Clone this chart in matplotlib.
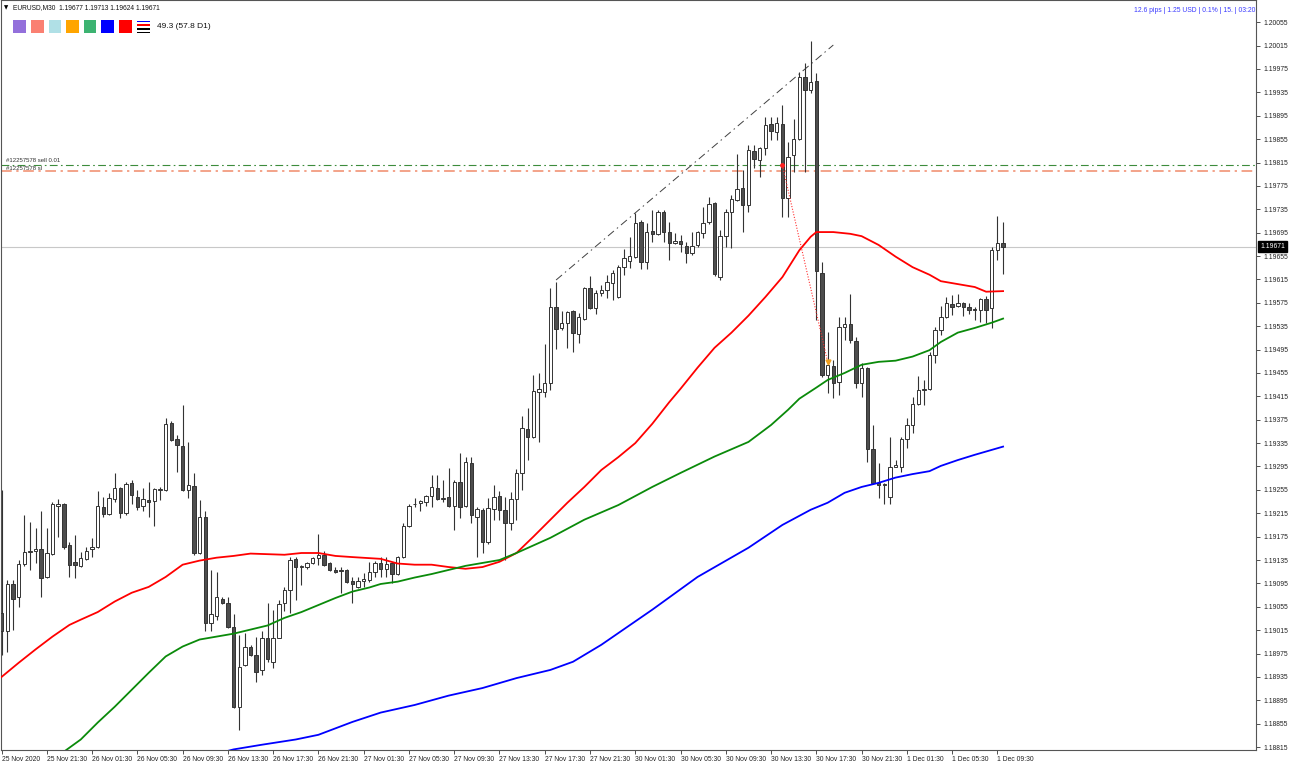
import matplotlib
matplotlib.use("Agg")
import matplotlib.pyplot as plt
import matplotlib.transforms as mtransforms
from matplotlib.patches import Rectangle
import numpy as np

plt.rcParams['font.family'] = ['Liberation Sans', 'DejaVu Sans']

# EURUSD M30, 25 Nov 17:30 .. 1 Dec 10:00 (178 bars)
opens = [1.19045, 1.19013, 1.19094, 1.19071, 1.19128, 1.19149, 1.19151, 1.19153, 1.19106, 1.19146,
         1.19228, 1.19231, 1.19161, 1.19132, 1.19125, 1.19137, 1.19154, 1.19158, 1.19226, 1.19214,
         1.19240, 1.19258, 1.19216, 1.19267, 1.19243, 1.19228, 1.19238, 1.19236, 1.19255, 1.19255,
         1.19370, 1.19342, 1.19330, 1.19255, 1.19262, 1.19147, 1.19209, 1.19028, 1.19040, 1.19069,
         1.19062, 1.19021, 1.18884, 1.18956, 1.18987, 1.18973, 1.18947, 1.19002, 1.18961, 1.19002,
         1.19062, 1.19084, 1.19137, 1.19123, 1.19123, 1.19130, 1.19139, 1.19144, 1.19130, 1.19118,
         1.19118, 1.19118, 1.19099, 1.19089, 1.19099, 1.19101, 1.19115, 1.19130, 1.19120, 1.19130,
         1.19111, 1.19140, 1.19194, 1.19230, 1.19233, 1.19235, 1.19245, 1.19258, 1.19240, 1.19243,
         1.19228, 1.19269, 1.19228, 1.19301, 1.19209, 1.19221, 1.19165, 1.19223, 1.19245, 1.19221,
         1.19199, 1.19240, 1.19284, 1.19359, 1.19346, 1.19423, 1.19423, 1.19438, 1.19568, 1.19532,
         1.19541, 1.19561, 1.19522, 1.19547, 1.19600, 1.19566, 1.19592, 1.19597, 1.19609, 1.19585,
         1.19636, 1.19647, 1.19653, 1.19713, 1.19645, 1.19698, 1.19693, 1.19730, 1.19696, 1.19677,
         1.19681, 1.19672, 1.19660, 1.19674, 1.19694, 1.19713, 1.19746, 1.19619, 1.19689, 1.19730,
         1.19751, 1.19771, 1.19742, 1.19834, 1.19819, 1.19840, 1.19881, 1.19867, 1.19881, 1.19754,
         1.19828, 1.19855, 1.19961, 1.19939, 1.19954, 1.19626, 1.19452, 1.19467, 1.19440, 1.19534,
         1.19539, 1.19510, 1.19438, 1.19464, 1.19325, 1.19267, 1.19264, 1.19243, 1.19294, 1.19294,
         1.19342, 1.19366, 1.19402, 1.19426, 1.19428, 1.19486, 1.19528, 1.19551, 1.19573, 1.19570,
         1.19575, 1.19568, 1.19565, 1.19563, 1.19581, 1.19566, 1.19665, 1.19677]
highs = [1.19255, 1.19101, 1.19101, 1.19135, 1.19212, 1.19200, 1.19190, 1.19218, 1.19190, 1.19235,
         1.19240, 1.19233, 1.19165, 1.19177, 1.19149, 1.19158, 1.19173, 1.19253, 1.19243, 1.19250,
         1.19284, 1.19260, 1.19269, 1.19272, 1.19255, 1.19258, 1.19269, 1.19258, 1.19260, 1.19378,
         1.19373, 1.19349, 1.19400, 1.19337, 1.19284, 1.19238, 1.19218, 1.19118, 1.19115, 1.19071,
         1.19071, 1.19042, 1.19007, 1.19011, 1.18990, 1.19004, 1.19013, 1.19062, 1.19050, 1.19067,
         1.19089, 1.19140, 1.19140, 1.19127, 1.19132, 1.19140, 1.19180, 1.19151, 1.19132, 1.19123,
         1.19123, 1.19120, 1.19106, 1.19106, 1.19113, 1.19132, 1.19134, 1.19140, 1.19140, 1.19132,
         1.19142, 1.19199, 1.19230, 1.19241, 1.19238, 1.19247, 1.19281, 1.19281, 1.19272, 1.19293,
         1.19272, 1.19318, 1.19312, 1.19312, 1.19226, 1.19224, 1.19241, 1.19264, 1.19253, 1.19243,
         1.19252, 1.19291, 1.19382, 1.19395, 1.19452, 1.19455, 1.19505, 1.19600, 1.19611, 1.19561,
         1.19561, 1.19562, 1.19558, 1.19602, 1.19621, 1.19597, 1.19606, 1.19623, 1.19631, 1.19640,
         1.19667, 1.19688, 1.19729, 1.19717, 1.19712, 1.19734, 1.19734, 1.19734, 1.19713, 1.19694,
         1.19691, 1.19679, 1.19696, 1.19698, 1.19739, 1.19756, 1.19747, 1.19700, 1.19736, 1.19759,
         1.19829, 1.19802, 1.19845, 1.19845, 1.19842, 1.19893, 1.19893, 1.19893, 1.19913, 1.19850,
         1.19889, 1.19970, 1.19985, 1.20023, 1.19968, 1.19645, 1.19525, 1.19477, 1.19551, 1.19551,
         1.19590, 1.19517, 1.19472, 1.19465, 1.19366, 1.19301, 1.19267, 1.19346, 1.19306, 1.19346,
         1.19378, 1.19414, 1.19450, 1.19443, 1.19491, 1.19534, 1.19569, 1.19585, 1.19589, 1.19590,
         1.19577, 1.19575, 1.19568, 1.19583, 1.19587, 1.19670, 1.19724, 1.19713]
lows = [1.18973, 1.18978, 1.19016, 1.19054, 1.19125, 1.19118, 1.19130, 1.19071, 1.19105, 1.19144,
        1.19175, 1.19154, 1.19106, 1.19105, 1.19123, 1.19135, 1.19140, 1.19156, 1.19209, 1.19212,
        1.19235, 1.19207, 1.19212, 1.19230, 1.19221, 1.19219, 1.19209, 1.19194, 1.19238, 1.19253,
        1.19339, 1.19286, 1.19253, 1.19241, 1.19144, 1.19146, 1.19013, 1.19013, 1.19033, 1.19060,
        1.19019, 1.18882, 1.18845, 1.18954, 1.18970, 1.18926, 1.18939, 1.18961, 1.18951, 1.19001,
        1.19047, 1.19045, 1.19067, 1.19093, 1.19120, 1.19128, 1.19127, 1.19125, 1.19116, 1.19113,
        1.19079, 1.19096, 1.19062, 1.19087, 1.19089, 1.19098, 1.19106, 1.19106, 1.19106, 1.19096,
        1.19110, 1.19139, 1.19192, 1.19226, 1.19218, 1.19228, 1.19226, 1.19238, 1.19235, 1.19226,
        1.19187, 1.19207, 1.19226, 1.19199, 1.19140, 1.19147, 1.19163, 1.19204, 1.19204, 1.19135,
        1.19187, 1.19204, 1.19255, 1.19306, 1.19344, 1.19337, 1.19414, 1.19426, 1.19496, 1.19528,
        1.19498, 1.19491, 1.19506, 1.19545, 1.19565, 1.19556, 1.19587, 1.19583, 1.19580, 1.19583,
        1.19623, 1.19635, 1.19652, 1.19633, 1.19633, 1.19679, 1.19691, 1.19679, 1.19648, 1.19676,
        1.19662, 1.19643, 1.19657, 1.19670, 1.19686, 1.19710, 1.19621, 1.19614, 1.19670, 1.19669,
        1.19749, 1.19696, 1.19730, 1.19806, 1.19790, 1.19828, 1.19853, 1.19853, 1.19722, 1.19722,
        1.19799, 1.19853, 1.19799, 1.19934, 1.19545, 1.19448, 1.19421, 1.19412, 1.19417, 1.19511,
        1.19506, 1.19429, 1.19414, 1.19303, 1.19265, 1.19241, 1.19230, 1.19231, 1.19294, 1.19286,
        1.19327, 1.19352, 1.19400, 1.19400, 1.19426, 1.19472, 1.19520, 1.19549, 1.19554, 1.19568,
        1.19553, 1.19556, 1.19545, 1.19542, 1.19541, 1.19532, 1.19648, 1.19624]
closes = [1.19013, 1.19094, 1.19069, 1.19128, 1.19149, 1.19151, 1.19154, 1.19105, 1.19147, 1.19231,
          1.19231, 1.19158, 1.19127, 1.19127, 1.19139, 1.19151, 1.19158, 1.19228, 1.19214, 1.19241,
          1.19258, 1.19216, 1.19265, 1.19247, 1.19226, 1.19240, 1.19235, 1.19257, 1.19257, 1.19368,
          1.19341, 1.19332, 1.19255, 1.19264, 1.19147, 1.19209, 1.19028, 1.19042, 1.19071, 1.19062,
          1.19021, 1.18884, 1.18952, 1.18987, 1.18973, 1.18944, 1.19002, 1.18965, 1.19002, 1.19060,
          1.19084, 1.19135, 1.19123, 1.19125, 1.19130, 1.19139, 1.19144, 1.19127, 1.19118, 1.19115,
          1.19116, 1.19098, 1.19094, 1.19099, 1.19103, 1.19115, 1.19130, 1.19120, 1.19128, 1.19111,
          1.19140, 1.19194, 1.19228, 1.19231, 1.19236, 1.19245, 1.19260, 1.19240, 1.19241, 1.19228,
          1.19269, 1.19226, 1.19303, 1.19212, 1.19223, 1.19165, 1.19224, 1.19243, 1.19221, 1.19199,
          1.19240, 1.19284, 1.19361, 1.19346, 1.19424, 1.19428, 1.19438, 1.19568, 1.19530, 1.19541,
          1.19559, 1.19523, 1.19551, 1.19600, 1.19566, 1.19592, 1.19597, 1.19611, 1.19626, 1.19636,
          1.19652, 1.19655, 1.19712, 1.19645, 1.19696, 1.19693, 1.19730, 1.19696, 1.19677, 1.19681,
          1.19676, 1.19660, 1.19672, 1.19696, 1.19712, 1.19744, 1.19624, 1.19689, 1.19730, 1.19753,
          1.19770, 1.19742, 1.19836, 1.19821, 1.19840, 1.19879, 1.19869, 1.19883, 1.19754, 1.19824,
          1.19855, 1.19961, 1.19939, 1.19953, 1.19629, 1.19452, 1.19469, 1.19438, 1.19534, 1.19539,
          1.19511, 1.19438, 1.19464, 1.19325, 1.19267, 1.19264, 1.19265, 1.19294, 1.19298, 1.19342,
          1.19366, 1.19402, 1.19426, 1.19428, 1.19486, 1.19528, 1.19551, 1.19575, 1.19568, 1.19575,
          1.19568, 1.19563, 1.19563, 1.19581, 1.19563, 1.19665, 1.19677, 1.19671]

# moving averages (bar index, value)
red_ma_bars = [0, 3, 6, 9, 12, 14, 17, 20, 23, 26, 29, 32, 35, 38, 41, 44, 50, 53, 56, 59, 62, 67, 70,
               73, 76, 79, 82, 85, 88, 91, 94, 97, 100, 103, 106, 109, 112, 115, 118, 120, 123, 126,
               129, 132, 135, 138, 141, 143, 144, 147, 150, 152, 155, 158, 161, 164, 166, 169, 172,
               174, 177]
red_ma = [1.18935, 1.18959, 1.18982, 1.19004, 1.19024, 1.19033, 1.19046, 1.19064, 1.19079, 1.19089,
          1.19106, 1.19127, 1.19134, 1.19139, 1.19142, 1.19146, 1.19144, 1.19147, 1.19147, 1.19142,
          1.19140, 1.19137, 1.19129, 1.19127, 1.19127, 1.19123, 1.19120, 1.19123, 1.19132, 1.19147,
          1.19175, 1.19204, 1.19233, 1.19260, 1.19289, 1.19311, 1.19335, 1.19368, 1.19405, 1.19428,
          1.19464, 1.19498, 1.19524, 1.19553, 1.19585, 1.19619, 1.19665, 1.19688, 1.19696, 1.19696,
          1.19693, 1.19689, 1.19674, 1.19654, 1.19636, 1.19623, 1.19612, 1.19607, 1.19602, 1.19594,
          1.19595]
green_ma_bars = [11, 14, 17, 20, 23, 26, 29, 32, 35, 38, 41, 44, 47, 50, 53, 56, 59, 62, 65, 67, 70,
                 73, 76, 79, 82, 85, 88, 91, 97, 103, 109, 115, 120, 126, 132, 136, 139, 141, 144,
                 146, 149, 152, 155, 158, 161, 164, 166, 169, 172, 175, 177]
green_ma = [1.18807, 1.18828, 1.18857, 1.18884, 1.18913, 1.18942, 1.18970, 1.18987, 1.18999, 1.19004,
            1.19009, 1.19016, 1.19023, 1.19036, 1.19046, 1.19058, 1.19070, 1.19081, 1.19088, 1.19094,
            1.19098, 1.19105, 1.19111, 1.19118, 1.19125, 1.19130, 1.19135, 1.19147, 1.19173, 1.19204,
            1.19229, 1.19260, 1.19284, 1.19312, 1.19337, 1.19366, 1.19392, 1.19411, 1.19430, 1.19443,
            1.19455, 1.19469, 1.19474, 1.19476, 1.19483, 1.19494, 1.19508, 1.19524, 1.19532, 1.19541,
            1.19548]
blue_ma_bars = [39, 41, 46, 52, 56, 62, 67, 73, 79, 85, 91, 97, 101, 106, 115, 123, 132, 138, 143, 146,
                149, 152, 155, 158, 161, 164, 166, 169, 172, 177]
blue_ma = [1.18806, 1.18811, 1.18819, 1.18828, 1.18836, 1.18858, 1.18874, 1.18887, 1.18903, 1.18916,
           1.18933, 1.18947, 1.18961, 1.18990, 1.19050, 1.19106, 1.19156, 1.19195, 1.19221, 1.19233,
           1.19250, 1.19260, 1.19267, 1.19276, 1.19282, 1.19287, 1.19296, 1.19306, 1.19315, 1.19329]

# trade / objects
trade_open_bar, trade_open_price = 138, 1.19810
trade_close_bar, trade_close_price = 146, 1.19474
sl_price = 1.19800
bid_price = 1.19671
trend_bars = [98, 147]
trend_prices = [1.19614, 1.20016]

x_label_bars = list(range(0, 177, 8))
x_labels = ['25 Nov 2020', '25 Nov 21:30', '26 Nov 01:30', '26 Nov 05:30', '26 Nov 09:30',
            '26 Nov 13:30', '26 Nov 17:30', '26 Nov 21:30', '27 Nov 01:30', '27 Nov 05:30',
            '27 Nov 09:30', '27 Nov 13:30', '27 Nov 17:30', '27 Nov 21:30', '30 Nov 01:30',
            '30 Nov 05:30', '30 Nov 09:30', '30 Nov 13:30', '30 Nov 17:30', '30 Nov 21:30',
            '1 Dec 01:30', '1 Dec 05:30', '1 Dec 09:30']

legend_colors = ['#9370db', '#fa8072', '#b0e0e6', '#ffa500', '#3cb371', '#0000ff', '#ff0000']

W, H = 1290, 765
fig = plt.figure(figsize=(W / 100, H / 100), dpi=100)
ax = fig.add_axes([1 / W, 15 / H, 1255 / W, 750 / H])
ax.set_xlim(-0.1, 221.7)
ax.set_ylim(1.18810, 1.20093)

o = np.array(opens); h = np.array(highs); l = np.array(lows); c = np.array(closes)
idx = np.arange(len(o))
up = c >= o
edge = '#333333'
ax.vlines(idx, l, h, color=edge, lw=0.8, zorder=2)
ax.bar(idx[up], np.maximum(c - o, 0.00001)[up], bottom=o[up], width=0.6,
       facecolor='white', edgecolor=edge, linewidth=0.7, zorder=3)
ax.bar(idx[~up], np.maximum(o - c, 0.00001)[~up], bottom=c[~up], width=0.6,
       facecolor='#4d4d4d', edgecolor=edge, linewidth=0.7, zorder=3)

ax.plot(red_ma_bars, red_ma, color='#ff0000', lw=1.3, zorder=4, solid_joinstyle='round')
ax.plot(green_ma_bars, green_ma, color='#0a8a0a', lw=1.3, zorder=4, solid_joinstyle='round')
ax.plot(blue_ma_bars, blue_ma, color='#0000ff', lw=1.3, zorder=4, solid_joinstyle='round')

# horizontal lines
ax.axhline(bid_price, color='#c8c8c8', lw=0.8, zorder=1)
ax.axhline(trade_open_price, color='#3c8c3c', lw=0.8, ls=(0, (7, 3, 1.5, 3)), zorder=1)
ax.axhline(sl_price, color='#f08a6a', lw=1.1, ls=(0, (7, 3, 1.5, 3)), zorder=1)

# trend line
ax.plot(trend_bars, trend_prices, color='#404040', lw=0.7, ls=(0, (8, 4, 1.5, 4)), zorder=1)

# closed trade
ax.plot([trade_open_bar, trade_close_bar], [trade_open_price, trade_close_price],
        color='#ff3030', lw=0.8, ls=(0, (1, 1.5)), zorder=5)
ax.plot(trade_open_bar, trade_open_price, 'o', color='#ff2020', ms=2.5, zorder=6)
ax.plot(trade_close_bar, trade_close_price, 'v', color='#f0a020', ms=3.5, zorder=6)

# axes styling
for s in ax.spines.values():
    s.set_color('#555555')
    s.set_linewidth(0.8)
ax.yaxis.tick_right()
yt = np.round(np.arange(1.18815, 1.20056, 0.0004), 5)
ax.set_yticks(yt)
ax.set_yticklabels([f'{v:.5f}' for v in yt])
ax.tick_params(axis='y', direction='out', length=3, width=0.6, pad=2, labelsize=4.9,
               colors='#333333', labelcolor='#222222')
ax.set_xticks(x_label_bars)
ax.set_xticklabels(x_labels)
ax.tick_params(axis='x', direction='out', length=3, width=0.6, pad=1.5, labelsize=4.9,
               colors='#333333', labelcolor='#222222')
for lbl in ax.get_xticklabels():
    lbl.set_ha('left')

# current price box
tr = mtransforms.blended_transform_factory(ax.transAxes, ax.transData)
ax.text(1.0 + 4 / 1255, bid_price, '1.19671', transform=tr, ha='left', va='center',
        fontsize=4.9, color='white', zorder=10, clip_on=False,
        bbox=dict(boxstyle='square,pad=0.25', fc='black', ec='black'))

# header
def fx(x):
    return x / W

def fy(y):
    return 1 - y / H

fig.text(fx(4), fy(8), '\u25bc', fontsize=4, family='DejaVu Sans', va='center', ha='left')
fig.text(fx(13), fy(8), 'EURUSD,M30  1.19677 1.19713 1.19624 1.19671',
         fontsize=4.8, va='center', ha='left', color='#111111')
for k, col in enumerate(legend_colors):
    fig.add_artist(Rectangle((fx(13.3 + 17.6 * k), fy(33.3)), 12.7 / W, 13.3 / H,
                             transform=fig.transFigure, facecolor=col, edgecolor='none'))
for y0, y1, col in [(20.5, 22, '#0000ff'), (23.5, 26, '#ff0000'), (28, 30, '#000000'), (31.5, 33.3, '#000000')]:
    fig.add_artist(Rectangle((fx(137), fy(y1)), 13 / W, (y1 - y0) / H,
                             transform=fig.transFigure, facecolor=col, edgecolor='none'))
fig.text(fx(157), fy(27), '49.3 (57.8 D1)', fontsize=6, va='center', ha='left', color='#111111')
fig.text(fx(1255), fy(10), '12.6 pips | 1.25 USD | 0.1% | 15. | 03:20', fontsize=4.9,
         va='center', ha='right', color='#3a3aff')
fig.text(fx(6), fy(161), '#12257578 sell 0.01', fontsize=4.3, va='center', ha='left', color='#333333')
fig.text(fx(6), fy(168), '#12257578 sl', fontsize=4.3, va='center', ha='left', color='#333333')

fig.savefig('out.png', dpi=100)
